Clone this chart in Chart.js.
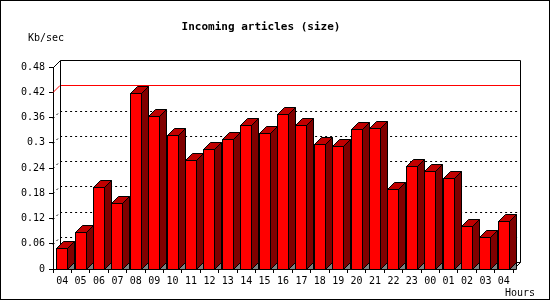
<!DOCTYPE html>
<html>
<head>
<meta charset="utf-8">
<script src="https://cdn.jsdelivr.net/npm/chart.js@4/dist/chart.umd.min.js"></script>
<style>
  html, body { margin: 0; padding: 0; background: #fff; }
  canvas { display: block; }
</style>
</head>
<body>
<canvas id="c" width="550" height="300"></canvas>
<script>
// ---- data ----
const hours = ['04','05','06','07','08','09','10','11','12','13','14','15','16','17','18','19','20','21','22','23','00','01','02','03','04'];
const kbPerSec = [0.049,0.087,0.196,0.158,0.418,0.363,0.318,0.259,0.284,0.308,0.341,0.323,0.368,0.341,0.296,0.292,0.332,0.334,0.189,0.244,0.232,0.216,0.102,0.075,0.113];
const yTickLabels = ['0','0.06','0.12','0.18','0.24','0.3','0.36','0.42','0.48'];
const yMax = 0.48;
const yStep = 0.06;
const maxLine = 0.42;
const titleText = 'Incoming articles (size)';
const yUnit = 'Kb/sec';
const xUnit = 'Hours';

const DEPTH = 7;
const FONT = '"DejaVu Sans Mono", monospace';

const threeD = {
  id: 'threeD',
  beforeDatasetsDraw(chart) {
    const ctx = chart.ctx;
    const ys = chart.scales.y;
    const a = chart.chartArea;
    const L = Math.round(a.left), R = Math.round(a.right), B = Math.round(a.bottom);
    ctx.save();
    ctx.lineWidth = 1;
    // dotted grid lines on back wall
    ctx.strokeStyle = '#000';
    ctx.setLineDash([2, 3]);
    ys.ticks.forEach(t => {
      const v = t.value;
      if (v <= 0 || v >= yMax - 1e-9 || Math.abs(v - maxLine) < 1e-9) return;
      const y = Math.round(ys.getPixelForValue(v)) + 0.5;
      ctx.beginPath();
      ctx.moveTo(L, y);
      ctx.lineTo(L + DEPTH, y - DEPTH);
      ctx.lineTo(R + DEPTH, y - DEPTH);
      ctx.stroke();
    });
    ctx.setLineDash([]);
    // red max line
    const ym = Math.round(ys.getPixelForValue(maxLine)) + 0.5;
    ctx.strokeStyle = '#FF0000';
    ctx.beginPath();
    ctx.moveTo(L, ym);
    ctx.lineTo(L + DEPTH, ym - DEPTH);
    ctx.lineTo(R + DEPTH, ym - DEPTH);
    ctx.stroke();
    // back wall frame
    const yt = Math.round(ys.getPixelForValue(yMax)) + 0.5;
    ctx.strokeStyle = '#000';
    ctx.beginPath();
    ctx.moveTo(L + 0.5, yt);
    ctx.lineTo(L + DEPTH + 0.5, yt - DEPTH);
    ctx.lineTo(R + DEPTH + 0.5, yt - DEPTH);
    ctx.lineTo(R + DEPTH + 0.5, B - DEPTH + 0.5);
    ctx.lineTo(R + 0.5, B + 0.5);
    ctx.moveTo(L + DEPTH + 0.5, yt - DEPTH);
    ctx.lineTo(L + DEPTH + 0.5, B - DEPTH + 0.5);
    ctx.lineTo(R + DEPTH + 0.5, B - DEPTH + 0.5);
    ctx.stroke();
    ctx.restore();
  },
  afterDatasetsDraw(chart) {
    const ctx = chart.ctx;
    const meta = chart.getDatasetMeta(0);
    ctx.save();
    ctx.lineWidth = 1;
    ctx.strokeStyle = '#000';
    meta.data.forEach(bar => {
      const p = bar.getProps(['x', 'y', 'base', 'width'], true);
      const l = Math.round(p.x - p.width / 2) + 0.5;
      const r = l + Math.round(p.width) - 1;
      const t = Math.round(p.y) + 0.5;
      const b = Math.round(p.base) + 0.5;
      // gray floor triangle
      ctx.fillStyle = '#808080';
      ctx.beginPath();
      ctx.moveTo(r, b); ctx.lineTo(r + DEPTH, b - DEPTH); ctx.lineTo(r + DEPTH, b); ctx.closePath();
      ctx.fill(); ctx.stroke();
      // side face
      ctx.fillStyle = '#800000';
      ctx.beginPath();
      ctx.moveTo(r, t); ctx.lineTo(r + DEPTH, t - DEPTH); ctx.lineTo(r + DEPTH, b - DEPTH); ctx.lineTo(r, b); ctx.closePath();
      ctx.fill(); ctx.stroke();
      // top face
      ctx.fillStyle = '#C00000';
      ctx.beginPath();
      ctx.moveTo(l, t); ctx.lineTo(l + DEPTH, t - DEPTH); ctx.lineTo(r + DEPTH, t - DEPTH); ctx.lineTo(r, t); ctx.closePath();
      ctx.fill(); ctx.stroke();
      // front face
      ctx.fillStyle = '#FF0000';
      ctx.fillRect(l, t, r - l, b - t);
      ctx.strokeRect(l, t, r - l, b - t);
    });
    ctx.restore();
  },
  afterDraw(chart) {
    const ctx = chart.ctx;
    ctx.save();
    ctx.fillStyle = '#000';
    ctx.textBaseline = 'middle';
    ctx.font = 'bold 11px ' + FONT;
    ctx.textAlign = 'center';
    ctx.fillText(titleText, 261, 27);
    ctx.font = '10px ' + FONT;
    ctx.textAlign = 'left';
    ctx.fillText(yUnit, 28, 38);
    ctx.fillText(xUnit, 505, 293);
    ctx.strokeStyle = '#000';
    ctx.lineWidth = 1;
    ctx.strokeRect(0.5, 0.5, 549, 299);
    ctx.restore();
  }
};

new Chart(document.getElementById('c'), {
  type: 'bar',
  data: {
    labels: hours,
    datasets: [{
      data: kbPerSec,
      backgroundColor: 'rgba(0,0,0,0)',
      borderWidth: 0,
      barThickness: 12
    }]
  },
  options: {
    responsive: false,
    animation: false,
    events: [],
    layout: { padding: { left: 0, right: 37, top: 67, bottom: 0 } },
    plugins: { legend: { display: false }, title: { display: false }, tooltip: { enabled: false } },
    scales: {
      x: {
        type: 'category',
        offset: true,
        grid: { offset: true, drawOnChartArea: false, drawTicks: true, tickLength: 4, color: '#000' },
        border: { display: true, color: '#000', width: 1 },
        ticks: { color: '#000', font: { family: FONT, size: 10 }, padding: 2, maxRotation: 0, autoSkip: false },
        afterFit(scale) { scale.height = 31; }
      },
      y: {
        min: 0,
        max: yMax,
        grid: { drawOnChartArea: false, drawTicks: true, tickLength: 4, color: '#000' },
        border: { display: true, color: '#000', width: 1 },
        ticks: {
          stepSize: yStep,
          color: '#000',
          font: { family: FONT, size: 10 },
          padding: 4,
          callback: (v, i) => yTickLabels[i]
        },
        afterFit(scale) { scale.width = 53; }
      }
    }
  },
  plugins: [threeD]
});
</script>
</body>
</html>
